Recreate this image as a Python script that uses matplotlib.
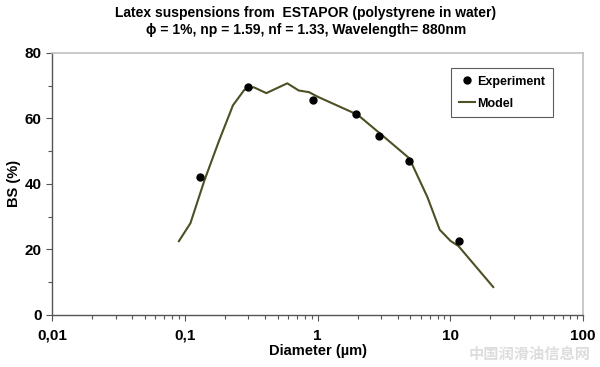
import matplotlib
matplotlib.use("Agg")
import matplotlib.pyplot as plt
from matplotlib.ticker import FixedLocator, FixedFormatter, LogLocator, NullFormatter

plt.rcParams['font.family'] = ['Liberation Sans', 'DejaVu Sans']
plt.rcParams['font.weight'] = 'bold'

# experiment points
exp_d = [0.13, 0.30, 0.92, 1.96, 2.91, 4.89, 11.5]
exp_bs = [42.2, 69.7, 65.6, 61.2, 54.6, 47.1, 22.7]

# model curve
mod_d = [0.09, 0.11, 0.14, 0.18, 0.23, 0.28, 0.33, 0.41, 0.59, 0.72, 0.86, 1.0,
         2.0, 3.15, 4.9, 6.7, 8.3, 10.0, 11.5, 21]
mod_bs = [22.5, 28, 41, 53, 64, 68.7, 69.5, 67.7, 70.7, 68.5, 68.0, 66.6,
          61.1, 54.4, 47.8, 36, 26, 22.6, 21, 8.5]

xticks = [0.01, 0.1, 1, 10, 100]
xlabels = ["0,01", "0,1", "1", "10", "100"]

fig = plt.figure(figsize=(6, 3.67), dpi=100)
ax = fig.add_axes([0.087, 0.142, 0.885, 0.714])

ax.plot(mod_d, mod_bs, color='#4f4f25', lw=1.5, label='Model', zorder=2)
ax.plot(exp_d, exp_bs, 'o', color='black', ms=5, label='Experiment', zorder=3)

ax.set_xscale('log')
ax.set_xlim(0.01, 100)
ax.set_ylim(0, 80)
ax.xaxis.set_major_locator(FixedLocator(xticks))
ax.xaxis.set_major_formatter(FixedFormatter(xlabels))
ax.xaxis.set_minor_locator(LogLocator(base=10, subs=range(2, 10)))
ax.xaxis.set_minor_formatter(NullFormatter())
ax.set_yticks([0, 20, 40, 60, 80])
ax.set_yticks([10, 30, 50, 70], minor=True)

ax.tick_params(axis='both', which='major', labelsize=11, length=4, width=0.8, color='#555555')
ax.tick_params(axis='both', which='minor', length=3, width=0.8, color='#555555')
ax.tick_params(axis='x', pad=6)
for lab in ax.get_xticklabels() + ax.get_yticklabels():
    lab.set_fontweight('bold')

for s in ['left', 'bottom']:
    ax.spines[s].set_color('#555555')
    ax.spines[s].set_linewidth(1.0)
for s in ['top', 'right']:
    ax.spines[s].set_color('#c0c0c0')
    ax.spines[s].set_linewidth(1.2)

ax.set_xlabel('Diameter (µm)', fontsize=10.5, fontweight='bold', labelpad=1)
ax.set_ylabel('BS (%)', fontsize=10.5, fontweight='bold', labelpad=3)

fig.suptitle('Latex suspensions from  ESTAPOR (polystyrene in water)\n'
             'ϕ = 1%, np = 1.59, nf = 1.33, Wavelength= 880nm',
             x=0.51, y=0.985, fontsize=10, fontweight='bold', linespacing=1.35)

handles, labels = ax.get_legend_handles_labels()
leg = ax.legend(handles[::-1], labels[::-1], loc='upper right',
                bbox_to_anchor=(0.955, 0.965), frameon=True,
                fancybox=False, edgecolor='#333333', handlelength=1.3,
                handletextpad=0.2, borderpad=0.6, labelspacing=0.8,
                prop={'weight': 'bold', 'size': 9})
leg.get_frame().set_linewidth(0.8)

# watermark
fig.text(0.985, 0.035, '中国润滑油信息网', ha='right', va='center', fontsize=11,
         color='#dddddd', family=['Noto Sans CJK SC', 'DejaVu Sans'])

fig.savefig('out.png', dpi=100)
